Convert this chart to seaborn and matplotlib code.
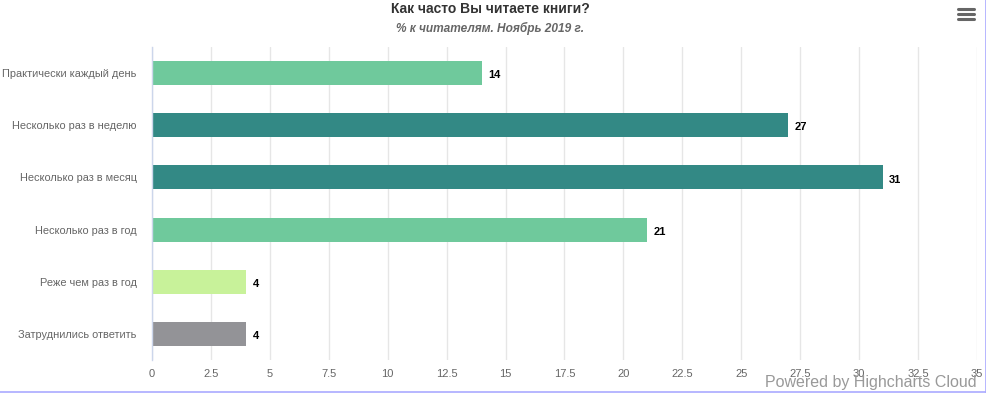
import matplotlib
matplotlib.use("Agg")
import matplotlib.pyplot as plt
from matplotlib.lines import Line2D
import numpy as np
import pandas as pd
import seaborn as sns

# ── Data ─────────────────────────────────────────────────────
categories = [
    "Практически каждый день",
    "Несколько раз в неделю",
    "Несколько раз в месяц",
    "Несколько раз в год",
    "Реже чем раз в год",
    "Затруднились ответить",
]
values = [14, 27, 31, 21, 4, 4]
bar_colors = ["#6fc99c", "#338985", "#338985", "#6fc99c", "#c8f29a", "#939397"]
x_ticks = np.arange(0, 35.01, 2.5)

title = "Как часто Вы читаете книги?"
subtitle = "% к читателям. Ноябрь 2019 г."
credits = "Powered by Highcharts Cloud"

df = pd.DataFrame({"category": categories, "value": values})

sns.set_theme(style="white")
plt.rcParams["font.family"] = ["Liberation Sans", "DejaVu Sans"]

fig = plt.figure(figsize=(9.87, 3.93), dpi=100)
ax = fig.add_axes([152 / 987, 33 / 393, 825 / 987, 313 / 393])

sns.barplot(data=df, x="value", y="category", hue="category",
            palette=bar_colors, legend=False, orient="h",
            width=0.46, saturation=1, linewidth=0, ax=ax, zorder=3)

# value labels
for i, v in enumerate(values):
    ax.annotate(f"{v}", xy=(v, i), xytext=(4.5, -1.5), textcoords="offset points",
                ha="left", va="center", fontsize=8, fontweight="bold",
                color="#000000")

ax.set_xlim(0, 35)
ax.set_xticks(x_ticks)
ax.set_xticklabels([f"{t:g}" for t in x_ticks])
ax.set_xlabel("")
ax.set_ylabel("")
ax.grid(axis="x", color="#e6e6e6", linewidth=1, zorder=0)
ax.tick_params(axis="x", length=0, pad=6.5, labelsize=8, labelcolor="#666666")
ax.tick_params(axis="y", length=0, pad=11, labelsize=7.9, labelcolor="#666666")
for side in ["top", "right", "bottom"]:
    ax.spines[side].set_visible(False)
ax.spines["left"].set_color("#ccd6eb")
ax.spines["left"].set_linewidth(1)
ax.spines["left"].set_zorder(5)

# titles
fig.text(0.4965, 1 - 9 / 393, title, ha="center", va="center",
         fontsize=10, fontweight="bold", color="#333333")
fig.text(0.4965, 1 - 28 / 393, subtitle, ha="center", va="center",
         fontsize=8.6, fontweight="bold", fontstyle="italic", color="#666666")

# credits
fig.text(977 / 987, 1 - 382 / 393, credits, ha="right", va="center",
         fontsize=11.5, color="#999999")

# menu icon
for yy in [9, 14, 19]:
    fig.add_artist(Line2D([958 / 987, 974 / 987], [1 - yy / 393] * 2,
                          color="#666666", linewidth=2.2,
                          solid_capstyle="round"))

# container border (right and bottom)
fig.add_artist(Line2D([986 / 987] * 2, [0, 1], color="#aaaaff", linewidth=1.2))
fig.add_artist(Line2D([0, 1], [1.2 / 393] * 2, color="#aaaaff", linewidth=1.2))

fig.savefig("out.png", dpi=100)
plt.close(fig)
